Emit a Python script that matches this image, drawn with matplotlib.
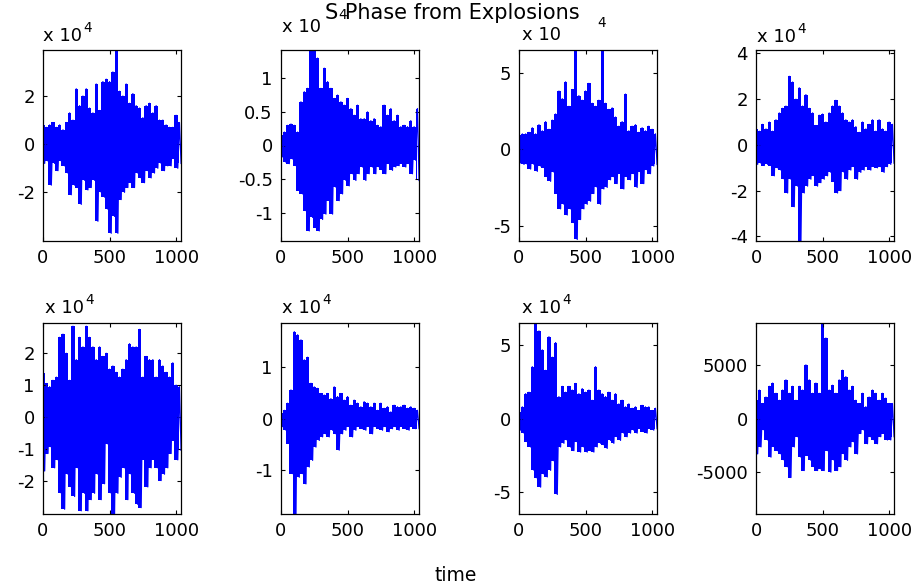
import numpy as np
import matplotlib
matplotlib.use("Agg")
import matplotlib.pyplot as plt

plt.rcParams['font.family'] = ['DejaVu Sans']
plt.rcParams['axes.unicode_minus'] = False

# S-phase traces of eight explosions, read off the picture as peak values
# (upper / lower envelope every 25 samples). Panels 1-7 in units of 1e4.
STEP = 25
N_SAMPLES = 1033

exp1_up = [0.8, 0.7, 0.8, 0.9, 0.7, 0.8, 0.6, 0.9, 1.3, 1.0, 2.3, 1.6, 2.0, 2.3,
           1.5, 1.3, 2.5, 1.4, 2.6, 2.7, 2.6, 3.0, 3.9, 2.2, 2.0, 2.5, 1.7, 2.1,
           1.6, 1.5, 1.1, 1.6, 1.7, 1.3, 1.6, 1.0, 1.0, 0.8, 0.7, 0.7, 1.2, 0.9]
exp1_lo = [-0.8, -0.7, -1.7, -0.8, -1.1, -0.7, -0.9, -1.2, -2.1, -1.7, -1.8, -2.5,
           -1.5, -1.9, -1.8, -1.5, -3.2, -2.0, -2.2, -2.7, -3.7, -3.0, -3.7, -2.3,
           -2.0, -1.8, -1.6, -1.8, -1.2, -1.4, -1.6, -1.1, -1.4, -1.2, -1.0, -0.8,
           -1.1, -0.9, -0.9, -0.6, -1.0, -0.8]

exp2_up = [0.15, 0.2, 0.3, 0.32, 0.3, 0.2, 0.65, 0.8, 0.85, 1.42, 1.42, 1.3, 0.85,
           1.15, 0.95, 0.85, 0.7, 0.75, 0.65, 0.6, 0.7, 0.55, 0.45, 0.6, 0.4, 0.4,
           0.5, 0.37, 0.4, 0.3, 0.28, 0.6, 0.45, 0.55, 0.37, 0.45, 0.28, 0.3, 0.28,
           0.37, 0.28, 0.55]
exp2_lo = [-0.17, -0.25, -0.27, -0.2, -0.3, -0.67, -0.72, -0.97, -1.27, -1.07,
           -1.22, -1.27, -1.1, -1.02, -0.82, -1.02, -0.62, -0.82, -0.72, -0.52,
           -0.6, -0.42, -0.52, -0.42, -0.32, -0.52, -0.42, -0.32, -0.42, -0.32,
           -0.37, -0.42, -0.27, -0.37, -0.32, -0.3, -0.27, -0.32, -0.27, -0.42,
           -0.22, -0.52]

exp3_up = [0.9, 1.0, 1.0, 1.1, 1.4, 1.0, 1.6, 1.2, 1.8, 1.3, 1.9, 2.3, 3.8, 3.3,
           4.4, 2.8, 3.9, 6.5, 3.5, 3.2, 3.8, 4.3, 3.0, 2.8, 3.2, 6.6, 3.0, 2.6,
           2.7, 2.1, 1.5, 1.8, 3.6, 1.2, 1.5, 1.6, 1.1, 1.4, 1.2, 1.5, 1.3, 1.0]
exp3_lo = [-0.9, -1.0, -1.0, -1.3, -1.0, -1.45, -1.1, -1.2, -1.8, -2.1, -1.5, -2.9,
           -3.9, -3.6, -4.3, -3.9, -4.8, -5.9, -4.6, -3.9, -3.6, -3.4, -2.9, -2.5,
           -3.6, -2.6, -2.5, -2.0, -1.8, -2.25, -1.6, -2.6, -1.8, -2.0, -1.6, -2.5,
           -1.5, -2.25, -1.35, -1.6, -1.1, -1.0]

exp4_up = [0.7, 0.6, 0.9, 0.7, 1.0, 0.6, 1.1, 1.4, 1.6, 1.7, 3.0, 2.75, 2.0, 2.5,
           1.7, 2.2, 1.6, 1.4, 0.85, 1.3, 1.35, 1.0, 1.4, 1.7, 1.95, 1.7, 1.4, 1.1,
           1.0, 1.1, 0.8, 0.55, 1.0, 0.7, 0.9, 1.1, 0.6, 1.1, 0.7, 0.6, 1.0, 0.9]
exp4_lo = [-0.85, -0.8, -0.9, -0.85, -0.9, -1.35, -1.0, -1.1, -1.5, -2.1, -1.5,
           -2.7, -1.8, -4.2, -2.1, -1.8, -1.5, -1.35, -1.8, -1.65, -1.5, -1.35,
           -1.2, -1.6, -2.1, -2.0, -1.2, -1.5, -1.1, -0.95, -1.5, -1.2, -1.1,
           -0.95, -1.1, -0.95, -1.0, -0.95, -1.2, -0.95, -0.85, -0.8]

exp5_up = [1.37, 1.05, 0.95, 1.15, 1.25, 2.5, 2.6, 2.0, 1.15, 2.85, 1.8, 2.5, 2.2,
           2.85, 2.5, 2.2, 1.8, 2.2, 1.9, 2.0, 1.5, 1.6, 1.4, 1.25, 1.5, 1.8, 2.3,
           2.2, 2.2, 2.75, 1.25, 1.9, 1.8, 1.8, 1.25, 1.8, 1.6, 1.4, 1.25, 1.7,
           1.0, 0.95]
exp5_lo = [-1.7, -1.15, -0.95, -1.6, -1.35, -2.4, -2.9, -1.8, -2.2, -2.5, -1.6,
           -2.95, -2.4, -2.95, -2.6, -2.4, -1.8, -2.6, -2.1, -0.85, -2.4, -3.05,
           -2.4, -1.9, -1.6, -2.6, -1.8, -2.4, -2.75, -2.85, -1.35, -2.2, -1.6,
           -1.35, -1.6, -2.0, -1.8, -1.6, -1.15, -0.75, -1.35, -1.05]

exp6_up = [0.1, 0.16, 0.3, 0.56, 1.7, 1.64, 1.54, 1.15, 1.2, 0.69, 0.62, 0.59,
           0.49, 0.46, 0.49, 0.39, 0.62, 0.43, 0.49, 0.36, 0.43, 0.26, 0.36, 0.3,
           0.23, 0.33, 0.3, 0.23, 0.3, 0.16, 0.3, 0.2, 0.23, 0.13, 0.26, 0.23,
           0.23, 0.26, 0.2, 0.23, 0.2, 0.16]
exp6_lo = [-0.16, -0.23, -0.49, -1.08, -1.87, -1.15, -1.08, -1.28, -0.95, -0.82,
           -0.56, -0.43, -0.36, -0.3, -0.36, -0.23, -0.3, -0.62, -0.3, -0.23,
           -0.16, -0.36, -0.23, -0.16, -0.2, -0.23, -0.16, -0.3, -0.16, -0.2,
           -0.23, -0.16, -0.26, -0.2, -0.16, -0.23, -0.16, -0.2, -0.23, -0.16,
           -0.2, -0.2]

exp7_up = [0.45, 0.8, 1.7, 1.8, 3.55, 6.5, 6.0, 4.7, 3.3, 5.6, 4.2, 5.2, 1.5, 2.2,
           1.8, 2.2, 1.95, 2.4, 1.7, 2.05, 1.8, 1.95, 1.25, 3.55, 1.95, 1.7, 1.5,
           1.8, 1.25, 1.7, 1.0, 1.25, 0.8, 1.0, 0.7, 0.8, 0.55, 0.9, 0.8, 0.8,
           0.55, 0.7]
exp7_lo = [-0.8, -1.0, -1.6, -1.95, -3.55, -4.1, -4.7, -3.8, -4.0, -3.55, -2.9,
           -5.2, -1.95, -1.7, -1.5, -1.95, -2.2, -1.6, -2.3, -1.95, -2.3, -2.2,
           -2.3, -1.95, -1.7, -1.8, -2.05, -1.5, -1.7, -1.25, -1.5, -1.0, -1.25,
           -1.0, -0.8, -1.0, -0.7, -0.9, -1.0, -0.7, -0.8, -0.7]

# panel 8 in raw units
exp8_up = [1700, 2650, 1400, 2000, 3000, 3300, 2350, 1700, 2650, 3600, 2350, 3000,
           1700, 3000, 2650, 5000, 3600, 2350, 3300, 2350, 8900, 7500, 2650, 3100,
           2350, 3600, 4500, 3900, 2650, 3000, 1700, 1400, 2350, 1100, 2000, 2650,
           2350, 1700, 2350, 1900, 1400, 1400]
exp8_lo = [-3300, -2650, -1100, -2000, -3600, -2650, -3000, -3300, -3900, -4500,
           -5500, -2650, -1700, -3600, -4850, -3450, -3900, -4500, -4850, -4700,
           -4850, -3000, -5000, -3900, -4850, -4500, -3300, -3900, -2650, -2200,
           -3300, -1400, -1100, -2350, -1700, -2000, -2350, -1700, -1400, -2000,
           -2000, -1700]

uppers = [exp1_up, exp2_up, exp3_up, exp4_up, exp5_up, exp6_up, exp7_up, exp8_up]
lowers = [exp1_lo, exp2_lo, exp3_lo, exp4_lo, exp5_lo, exp6_lo, exp7_lo, exp8_lo]

ylims = [(-4.02, 3.91), (-1.42, 1.42), (-6.0, 6.48), (-4.2, 4.15),
         (-3.05, 2.95), (-1.87, 1.87), (-6.54, 6.54), (-8900, 8900)]
yticks = [[-2, 0, 2], [-1, -0.5, 0, 0.5, 1], [-5, 0, 5], [-4, -2, 0, 2, 4],
          [-2, -1, 0, 1, 2], [-1, 0, 1], [-5, 0, 5], [-5000, 0, 5000]]
xticks = [0, 500, 1000]

# "x 10" label anchor (pixels from top-left); exponent either follows it
# or, for panels 2 and 3, sits where the reference shows it
mult_pos = [(43, 41), (282, 32), (522, 40), (757, 42), (45, 313), (282, 313),
            (522, 313), None]
exp_pos = [None, (338, 19), (597, 27), None, None, None, None, None]

W, H = 916, 584
fig = plt.figure(figsize=(W / 100, H / 100), dpi=100)

lefts = [43, 281, 519, 756]
tops = [50, 323]
aw, ah = 137.5, 191
blue = (0, 0, 1)


def zigzag(upper, lower):
    t = np.arange(len(upper)) * STEP
    x = np.column_stack([t, t + STEP / 2]).ravel()
    y = np.column_stack([upper, lower]).ravel()
    return x, y


fs = 13
for k in range(8):
    r, c = divmod(k, 4)
    ax = fig.add_axes([lefts[c] / W, 1 - (tops[r] + ah) / H, aw / W, ah / H])
    t = np.arange(len(uppers[k])) * STEP
    ax.fill_between(t, lowers[k], uppers[k], step='mid', color=blue, lw=0)
    x, y = zigzag(uppers[k], lowers[k])
    ax.plot(x, y, color=blue, lw=0.9)
    ax.set_xlim(0, N_SAMPLES)
    ax.set_ylim(*ylims[k])
    ax.set_xticks(xticks)
    ax.set_yticks(yticks[k])
    ax.set_yticklabels([f"{v:g}" for v in yticks[k]])
    ax.tick_params(direction='in', top=True, right=True, length=3, width=0.8,
                   labelsize=fs, pad=6, colors='black')
    for s in ax.spines.values():
        s.set_linewidth(0.9)
    if mult_pos[k] is not None:
        bx, by = mult_pos[k]
        base = fig.text(bx / W, 1 - by / H, "x 10", fontsize=fs,
                        ha='left', va='baseline')
        if exp_pos[k] is None:
            ax.annotate("4", xy=(1.0, 0.55), xycoords=base, xytext=(1, 0),
                        textcoords='offset points', fontsize=fs * 0.75,
                        ha='left', va='bottom', annotation_clip=False)
        else:
            ex, ey = exp_pos[k]
            fig.text(ex / W, 1 - ey / H, "4", fontsize=fs * 0.75,
                     ha='left', va='baseline')

fig.text(325 / W, 1 - 19 / H, "S Phase from Explosions", fontsize=15,
         ha='left', va='baseline')
fig.text(456 / W, 1 - 581 / H, "time", fontsize=13.5, ha='center', va='baseline')

fig.savefig("out.png", dpi=100)
